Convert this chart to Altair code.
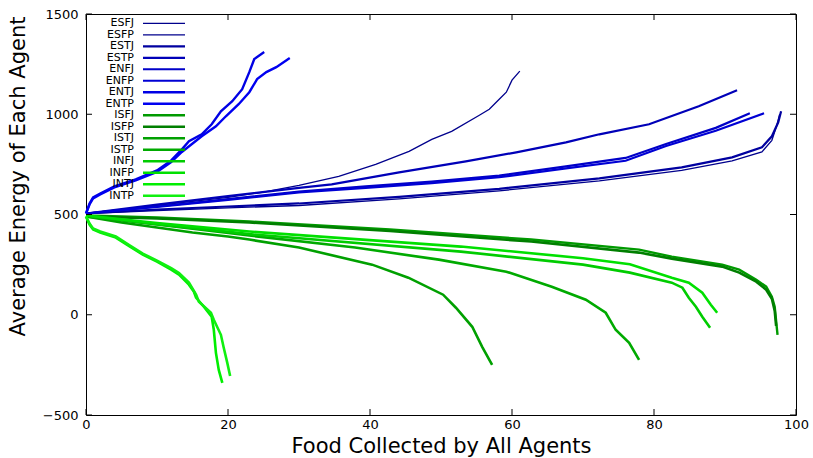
import altair as alt
import pandas as pd

# ---------------- data ----------------
labels = ["ESFJ", "ESFP", "ESTJ", "ESTP", "ENFJ", "ENFP", "ENTJ", "ENTP",
          "ISFJ", "ISFP", "ISTJ", "ISTP", "INFJ", "INFP", "INTJ", "INTP"]
colors = ["#00008c", "#00008c", "#0000a0", "#0000b8", "#0000c8", "#0000d4", "#0000e4", "#0000f0",
          "#009a00", "#007f00", "#00a000", "#00aa00", "#00cc00", "#00e000", "#00ee00", "#10f010"]
widths = [1.3, 1.3, 2.2, 2.2, 2.2, 2.2, 2.4, 2.4,
          2.4, 2.6, 2.6, 2.6, 2.6, 2.6, 2.6, 2.6]

x_ticks = [0, 20, 40, 60, 80, 100]
y_ticks = [-500, 0, 500, 1000, 1500]

ESFJ_x = [0, 5, 10, 15, 20, 25, 30, 35.6, 40.8, 45.5, 48.7, 51.5, 55.4, 56.8, 58.2, 59.2, 60.0, 61.1]
ESFJ_y = [505, 525, 545, 565, 585, 612, 645, 690, 750, 815, 875, 915, 995, 1025, 1075, 1110, 1170, 1215]

ESFP_x = [0, 10, 20, 30, 44.1, 58.2, 72.3, 83.9, 91, 95.2, 96.6, 97.3, 97.7]
ESFP_y = [505, 520, 533, 545, 578, 618, 668, 720, 768, 812, 870, 945, 1000]

ESTJ_x = [0, 10, 20, 30, 44.1, 58.2, 72.3, 83.9, 91, 95.2, 96.6, 97.5, 97.9]
ESTJ_y = [505, 525, 540, 555, 588, 628, 680, 735, 785, 835, 890, 960, 1015]

ESTP_x = [0, 10, 20, 30, 34.6, 44.1, 53.5, 60.6, 67.6, 72.3, 79.3, 86.3, 91.7]
ESTP_y = [505, 550, 592, 633, 650, 710, 765, 810, 860, 900, 950, 1040, 1120]

ENFJ_x = [0, 10, 20, 30, 39.4, 48.7, 58.2, 67.6, 76, 81.7, 88.7, 93.5]
ENFJ_y = [505, 540, 577, 614, 640, 664, 694, 740, 782, 852, 932, 1005]

ENFP_x = [0, 10, 20, 30, 39.4, 48.7, 58.2, 67.6, 76, 81.7, 88.7, 95.5]
ENFP_y = [505, 538, 573, 610, 633, 656, 686, 730, 768, 842, 918, 1005]

ENTJ_x = [0, 0.5, 1, 2, 4, 7, 10, 12, 13.5, 14.5, 16.3, 17.7, 19.0, 20.6, 22.0, 23.0, 23.7, 25.1]
ENTJ_y = [505, 555, 585, 605, 640, 675, 720, 770, 825, 865, 900, 950, 1015, 1065, 1125, 1210, 1275, 1310]

ENTP_x = [0, 0.5, 1, 2, 4, 7, 10, 12, 13.5, 16.3, 18.3, 19.7, 21.5, 23.0, 24.1, 25.4, 26.8, 28.7]
ENTP_y = [505, 550, 580, 600, 635, 670, 712, 762, 812, 890, 940, 990, 1050, 1110, 1175, 1210, 1235, 1280]

ISFJ_x = [0, 10, 23, 42.8, 62.7, 77.9, 82.5, 89.6, 92, 94.4, 95.8, 96.6, 97.0, 97.2, 97.4]
ISFJ_y = [495, 485, 465, 425, 375, 325, 290, 250, 225, 175, 140, 90, 40, -30, -100]

ISFP_x = [0, 10, 23, 42.8, 62.7, 77.9, 82.5, 89.6, 92, 94.4, 95.8, 96.6, 97.0, 97.2]
ISFP_y = [490, 480, 460, 418, 365, 310, 280, 240, 210, 165, 125, 80, 20, -55]

ISTJ_x = [0, 5, 10, 15, 20, 23, 30, 40.3, 45.4, 50.3, 52.1, 54.4, 55.8, 57.2]
ISTJ_y = [490, 460, 435, 410, 390, 375, 335, 250, 185, 100, 35, -60, -160, -250]

ISTP_x = [0, 10, 23, 37.9, 49.7, 59.2, 65.6, 70.4, 73.2, 74.6, 76.5, 77.9]
ISTP_y = [490, 450, 395, 335, 275, 215, 140, 75, 10, -75, -140, -225]

INFJ_x = [0, 10, 23, 52.8, 70, 76.6, 82.5, 84, 84.9, 85.9, 86.8, 87.9]
INFJ_y = [495, 452, 402, 315, 250, 210, 160, 135, 85, 40, -10, -65]

INFP_x = [0, 10, 23, 52.8, 70, 76.6, 82.5, 84.9, 86.8, 88, 88.9]
INFP_y = [495, 457, 415, 340, 282, 252, 185, 160, 110, 50, 10]

INTJ_x = [0, 0.5, 1, 2, 4.2, 6.2, 8, 10, 12, 13.1, 14.5, 15.2, 15.5, 16.6, 17.7, 18, 18.3, 18.7, 19.2]
INTJ_y = [490, 450, 425, 410, 385, 340, 300, 265, 225, 200, 150, 115, 85, 40, -10, -75, -190, -275, -340]

INTP_x = [0, 0.5, 1, 2, 4.2, 6.2, 8, 10, 12, 13.1, 14.5, 15.5, 15.9, 17.6, 18, 19, 19.4, 19.9, 20.3]
INTP_y = [490, 455, 430, 415, 390, 345, 305, 270, 232, 208, 160, 100, 65, 10, -25, -100, -165, -240, -305]

series = {
    "ESFJ": (ESFJ_x, ESFJ_y), "ESFP": (ESFP_x, ESFP_y), "ESTJ": (ESTJ_x, ESTJ_y), "ESTP": (ESTP_x, ESTP_y),
    "ENFJ": (ENFJ_x, ENFJ_y), "ENFP": (ENFP_x, ENFP_y), "ENTJ": (ENTJ_x, ENTJ_y), "ENTP": (ENTP_x, ENTP_y),
    "ISFJ": (ISFJ_x, ISFJ_y), "ISFP": (ISFP_x, ISFP_y), "ISTJ": (ISTJ_x, ISTJ_y), "ISTP": (ISTP_x, ISTP_y),
    "INFJ": (INFJ_x, INFJ_y), "INFP": (INFP_x, INFP_y), "INTJ": (INTJ_x, INTJ_y), "INTP": (INTP_x, INTP_y),
}

rows = []
for k, name in enumerate(labels):
    xs, ys = series[name]
    for i, (xv, yv) in enumerate(zip(xs, ys)):
        rows.append({"type": name, "x": xv, "y": yv, "i": i, "w": widths[k]})
df = pd.DataFrame(rows)
legend_df = pd.DataFrame({"type": labels, "w": widths})
xt_df = pd.DataFrame({"x": x_ticks})
yt_df = pd.DataFrame({"y": y_ticks})

W, H = 710, 401
FONT = "DejaVu Sans"

xscale = alt.Scale(domain=[0, 100], nice=False, zero=False)
yscale = alt.Scale(domain=[-500, 1500], nice=False, zero=False)
cscale = alt.Scale(domain=labels, range=colors)

lines = alt.Chart(df).mark_line().encode(
    x=alt.X("x:Q", scale=xscale,
            axis=alt.Axis(values=x_ticks, format="d", title="Food Collected by All Agents",
                          ticks=False, domain=False, grid=False, labelPadding=3,
                          labelFontSize=13, labelFlush=False, labelOverlap=False,
                          titleFontSize=21, titleFontWeight="normal",
                          titleY=37, titleBaseline="alphabetic")),
    y=alt.Y("y:Q", scale=yscale,
            axis=alt.Axis(values=y_ticks, format="d", title="Average Energy of Each Agent",
                          ticks=False, domain=False, grid=False, labelPadding=8,
                          labelFontSize=13, labelFlush=False, labelOverlap=False,
                          titleFontSize=21, titleFontWeight="normal", titleAngle=270,
                          titleX=-68, titleY=162, titleAlign="center", titleBaseline="middle")),
    color=alt.Color("type:N", scale=cscale, legend=None),
    strokeWidth=alt.StrokeWidth("w:Q", scale=None),
    detail="type:N",
    order="i:Q",
)

tick_len = 6
xt_bottom = alt.Chart(xt_df).mark_rule(color="black", strokeWidth=1).encode(
    x=alt.X("x:Q", scale=xscale), y=alt.value(H), y2=alt.value(H - tick_len))
xt_top = alt.Chart(xt_df).mark_rule(color="black", strokeWidth=1).encode(
    x=alt.X("x:Q", scale=xscale), y=alt.value(0), y2=alt.value(tick_len))
yt_left = alt.Chart(yt_df).mark_rule(color="black", strokeWidth=1).encode(
    y=alt.Y("y:Q", scale=yscale), x=alt.value(0), x2=alt.value(tick_len))
yt_right = alt.Chart(yt_df).mark_rule(color="black", strokeWidth=1).encode(
    y=alt.Y("y:Q", scale=yscale), x=alt.value(W), x2=alt.value(W - tick_len))

main = alt.layer(lines, xt_bottom, xt_top, yt_left, yt_right)

lscale = alt.Scale(type="point", domain=labels, range=[9.3, 181.7], padding=0)
leg_text = alt.Chart(legend_df).mark_text(align="right", baseline="middle", font=FONT,
                                          fontSize=11, color="black").encode(
    y=alt.Y("type:N", scale=lscale, axis=None),
    x=alt.value(48),
    text="type:N",
)
leg_rule = alt.Chart(legend_df).mark_rule().encode(
    y=alt.Y("type:N", scale=lscale, axis=None),
    x=alt.value(57), x2=alt.value(99),
    color=alt.Color("type:N", scale=cscale, legend=None),
    strokeWidth=alt.StrokeWidth("w:Q", scale=None),
)
legend_layer = alt.layer(leg_text, leg_rule)

chart = alt.layer(main, legend_layer).resolve_scale(y="independent").properties(
    width=W, height=H,
    autosize=alt.AutoSizeParams(type="none"),
    padding={"left": 86, "top": 14, "right": 17, "bottom": 43},
    background="white",
).configure_view(stroke="black", strokeWidth=1).configure_axis(
    labelFont=FONT, titleFont=FONT, labelColor="black", titleColor="black"
)

chart.save("out.html", embed_options={"renderer": "svg", "actions": False})
